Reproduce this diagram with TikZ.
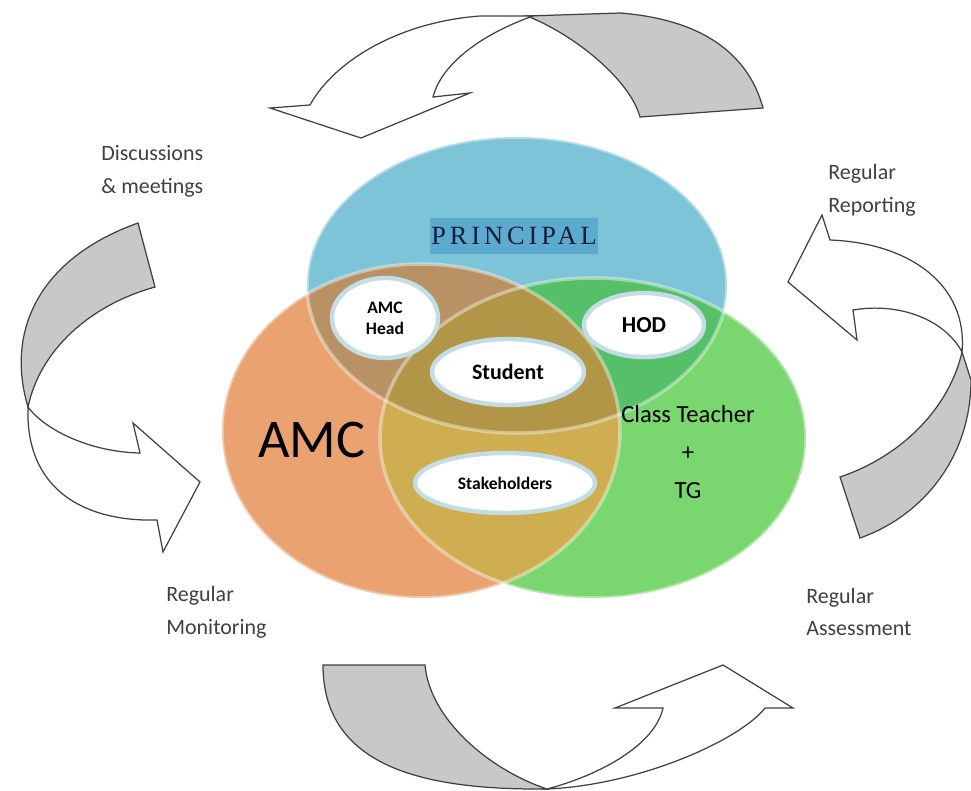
\documentclass[tikz,border=0pt]{standalone}
\usepackage{fontspec}
\setmainfont{Carlito}
\newfontfamily\principalfont[LetterSpace=15]{Liberation Serif}
\usetikzlibrary{shapes.geometric}

\definecolor{principalblue}{RGB}{125,196,216}
\definecolor{amcorange}{RGB}{234,163,112}
\definecolor{teachergreen}{RGB}{122,214,110}
\definecolor{blueorange}{RGB}{184,146,100}
\definecolor{bluegreen}{RGB}{86,192,104}
\definecolor{orangegreen}{RGB}{206,174,80}
\definecolor{allthree}{RGB}{178,150,72}
\definecolor{arrowgrey}{RGB}{200,200,200}
\definecolor{labelgrey}{RGB}{64,64,64}
\definecolor{highlight}{RGB}{92,170,206}
\definecolor{navytext}{RGB}{20,30,60}
\definecolor{glow}{RGB}{196,220,228}

\begin{document}
\begin{tikzpicture}[x=0.02cm, y=-0.02cm, font=\fontsize{12.5}{18.7}\selectfont]
    \tikzstyle{side_label} = [align=left, anchor=west, text=labelgrey, inner sep=0pt]
    \tikzstyle{back_band} = [draw=black!75, fill=arrowgrey, line width=0.7pt]
    \tikzstyle{front_band} = [draw=black!75, fill=white, line width=0.7pt]
    \tikzstyle{inner_oval} = [ellipse, draw=glow, line width=2.5pt, fill=white, inner sep=0pt, align=center]
    \tikzstyle{rim} = [draw=white, draw opacity=0.4, line width=2pt]

    \useasboundingbox (0,0) rectangle (971,791);

    \def\principalshape{(517,285) ellipse [x radius=210, y radius=148]}
    \def\amcshape{(421,431) ellipse [x radius=199, y radius=167]}
    \def\teachershape{(593,438) ellipse [x radius=213, y radius=160]}

    % curved arrows round the circles
    \draw[back_band] (640,117) -- (763,108) .. controls (750,60) and (710,20) .. (620,13) -- (527,16) .. controls (575,35) and (630,80) .. (640,117) -- cycle;
    \draw[front_band] (533,16) -- (480,16) .. controls (400,22) and (335,60) .. (310,105) -- (270,108) -- (361,138) -- (470,93) -- (433,97) .. controls (442,62) and (485,33) .. (533,16) -- cycle;

    \draw[back_band] (138,223) -- (155,287) .. controls (90,305) and (40,350) .. (28,407) .. controls (5,330) and (40,258) .. (138,223) -- cycle;
    \draw[front_band] (28,407) .. controls (25,490) and (85,522) .. (157,520) -- (163,552) -- (200,482) -- (133,423) -- (140,453) .. controls (90,452) and (45,430) .. (28,407) -- cycle;

    \draw[back_band] (840,477) -- (860,538) .. controls (925,515) and (971,455) .. (971,380) -- (962,352) .. controls (950,405) and (905,455) .. (840,477) -- cycle;
    \draw[front_band] (962,352) .. controls (968,285) and (910,243) .. (830,240) -- (822,215) -- (788,282) -- (857,340) -- (853,310) .. controls (900,302) and (945,320) .. (962,352) -- cycle;

    \draw[back_band] (323,665) -- (425,665) .. controls (430,720) and (490,770) .. (547,789) .. controls (430,790) and (323,770) .. (323,665) -- cycle;
    \draw[front_band] (547,789) .. controls (640,785) and (740,740) .. (765,708) -- (793,708) -- (723,665) -- (615,708) -- (663,708) .. controls (655,745) and (600,775) .. (547,789) -- cycle;

    % the three circles and their overlaps
    \fill[principalblue] \principalshape;
    \fill[amcorange] \amcshape;
    \fill[teachergreen] \teachershape;
    \begin{scope}
        \clip \principalshape;
        \fill[blueorange] \amcshape;
        \fill[bluegreen] \teachershape;
    \end{scope}
    \begin{scope}
        \clip \amcshape;
        \fill[orangegreen] \teachershape;
    \end{scope}
    \begin{scope}
        \clip \principalshape;
        \clip \amcshape;
        \fill[allthree] \teachershape;
    \end{scope}
    \draw[rim] \principalshape;
    \draw[rim] \amcshape;
    \draw[rim] \teachershape;

    \node[font=\principalfont\fontsize{15}{18}\selectfont, fill=highlight, text=navytext, inner xsep=1pt, inner ysep=5pt] (principal) at (514,236) {PRINCIPAL};
    \node[font=\fontsize{31}{36}\selectfont] (amc) at (312,440) {AMC};
    \node[font=\fontsize{14}{21.8}\selectfont, align=center] (teacher) at (688,452) {Class Teacher\\+\\TG};

    \node[inner_oval, minimum width=2.12cm, minimum height=1.6cm, font=\bfseries\fontsize{10}{12}\selectfont] (amchead) at (385,318) {AMC\\Head};
    \node[inner_oval, minimum width=2.4cm, minimum height=1.28cm, font=\bfseries\fontsize{13}{15}\selectfont] (hod) at (644,325) {HOD};
    \node[inner_oval, minimum width=3.04cm, minimum height=1.32cm, font=\bfseries\fontsize{12.5}{15}\selectfont] (student) at (508,372) {Student};
    \node[inner_oval, minimum width=3.6cm, minimum height=1.2cm, font=\bfseries\fontsize{10}{12}\selectfont] (stakeholders) at (505,483) {Stakeholders};

    \node[side_label] (discussions) at (101,171) {Discussions\\\& meetings};
    \node[side_label] (reporting) at (828,190) {Regular\\Reporting};
    \node[side_label] (monitoring) at (166,612) {Regular\\Monitoring};
    \node[side_label] (assessment) at (806,612) {Regular\\Assessment};
\end{tikzpicture}
\end{document}
